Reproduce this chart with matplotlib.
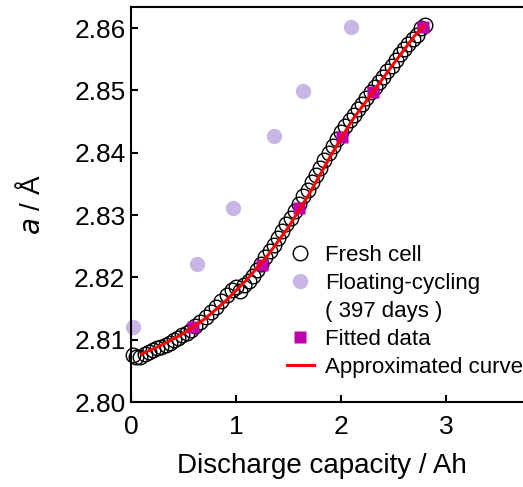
import matplotlib
matplotlib.use("Agg")
import matplotlib.pyplot as plt
from matplotlib.lines import Line2D

plt.rcParams['font.family'] = ['Liberation Sans', 'Noto Sans CJK JP', 'DejaVu Sans']

# fresh cell (open circles)
fresh_x = [0.02, 0.05, 0.09, 0.13, 0.17, 0.21, 0.25, 0.29, 0.33, 0.37, 0.41, 0.45,
           0.49, 0.53, 0.57, 0.61, 0.66, 0.71, 0.76, 0.81, 0.86, 0.91, 0.96, 1.00,
           1.04, 1.08, 1.12, 1.16, 1.20, 1.24, 1.28, 1.32, 1.36, 1.40, 1.44, 1.48,
           1.52, 1.56, 1.60, 1.64, 1.68, 1.72, 1.76, 1.80, 1.84, 1.88, 1.92, 1.96,
           2.00, 2.04, 2.08, 2.12, 2.16, 2.20, 2.24, 2.28, 2.32, 2.36, 2.40, 2.44,
           2.48, 2.52, 2.56, 2.60, 2.64, 2.68, 2.72, 2.76, 2.80]
fresh_y = [2.8075, 2.8073, 2.8073, 2.8077, 2.8080, 2.8083, 2.8086, 2.8089, 2.8092, 2.8095, 2.8099, 2.8103,
           2.8107, 2.8111, 2.8115, 2.8122, 2.8128, 2.8136, 2.8144, 2.8153, 2.8162, 2.8172, 2.8180, 2.8184,
           2.8178, 2.8188, 2.8195, 2.8203, 2.8212, 2.8222, 2.8232, 2.8242, 2.8252, 2.8263, 2.8274, 2.8285,
           2.8296, 2.8307, 2.8318, 2.8330, 2.8341, 2.8353, 2.8364, 2.8376, 2.8388, 2.8400, 2.8411, 2.8422,
           2.8433, 2.8443, 2.8452, 2.8461, 2.8470, 2.8479, 2.8488, 2.8497, 2.8505, 2.8514, 2.8522, 2.8531,
           2.8540, 2.8549, 2.8558, 2.8566, 2.8575, 2.8583, 2.8589, 2.8600, 2.8605]

# floating-cycling (397 days)
float_x = [0.02, 0.63, 0.97, 1.36, 1.64, 2.09]
float_y = [2.8120, 2.8221, 2.8311, 2.8427, 2.8499, 2.8602]

# fitted data
fit_x = [0.59, 1.245, 1.60, 2.01, 2.30, 2.78]
fit_y = [2.8120, 2.8220, 2.8311, 2.8426, 2.8497, 2.8602]

# approximated curve
curve_x = [0.10, 0.30, 0.50, 0.70, 0.90, 1.10, 1.30, 1.50, 1.70, 1.90, 2.10, 2.30, 2.50, 2.70, 2.78]
curve_y = [2.8077, 2.8092, 2.8110, 2.8133, 2.8162, 2.8196, 2.8235, 2.8281, 2.8335, 2.8395,
           2.8451, 2.8497, 2.8543, 2.8588, 2.8603]

fig = plt.figure(figsize=(5.23, 4.87), dpi=100)
ax = fig.add_axes([131/523, 85/487, 394/523, 395/487])

purple = '#c9b5e6'
magenta = '#c000a8'

ax.plot(float_x, float_y, 'o', ms=11, mfc=purple, mec='none', clip_on=False)
ax.plot(fresh_x, fresh_y, 'o', ms=10.5, mfc='none', mec='black', mew=1.0, clip_on=False)
ax.plot(fit_x, fit_y, 's', ms=8, mfc=magenta, mec='none')
ax.plot(curve_x, curve_y, '-', color='red', lw=2.2)

ax.set_xlim(0, 3.75)
ax.set_ylim(2.80, 2.8634)
ax.set_xticks([0, 1, 2, 3])
ax.set_yticks([2.80, 2.81, 2.82, 2.83, 2.84, 2.85, 2.86])
ax.set_yticklabels(['2.80', '2.81', '2.82', '2.83', '2.84', '2.85', '2.86'])
ax.tick_params(direction='in', length=5, width=1.5, labelsize=19)
ax.tick_params(axis='y', pad=4)
ax.tick_params(axis='x', pad=9)
for s in ax.spines.values():
    s.set_linewidth(1.5)

ax.set_xlabel('Discharge capacity / Ah', fontsize=20, labelpad=11)
ax.xaxis.set_label_coords(0.485, -0.13)
ax.set_ylabel(r'$a$ / Å', fontsize=20, labelpad=20)

handles = [
    Line2D([], [], ls='none', marker='o', ms=10.5, mfc='none', mec='black', mew=1.0),
    Line2D([], [], ls='none', marker='o', ms=11, mfc=purple, mec='none'),
    Line2D([], [], ls='none', marker='none'),
    Line2D([], [], ls='none', marker='s', ms=8, mfc=magenta, mec='none'),
    Line2D([], [], color='red', lw=2.2),
]
labels = ['Fresh cell', 'Floating-cycling', '( 397 days )', 'Fitted data', 'Approximated curve']
ax.legend(handles, labels, loc='upper left', bbox_to_anchor=(0.396, 0.397), frameon=False,
          fontsize=16, handlelength=1.2, handletextpad=0.5, labelspacing=0.31,
          borderpad=0, borderaxespad=0)

fig.savefig('out.png', dpi=100)
